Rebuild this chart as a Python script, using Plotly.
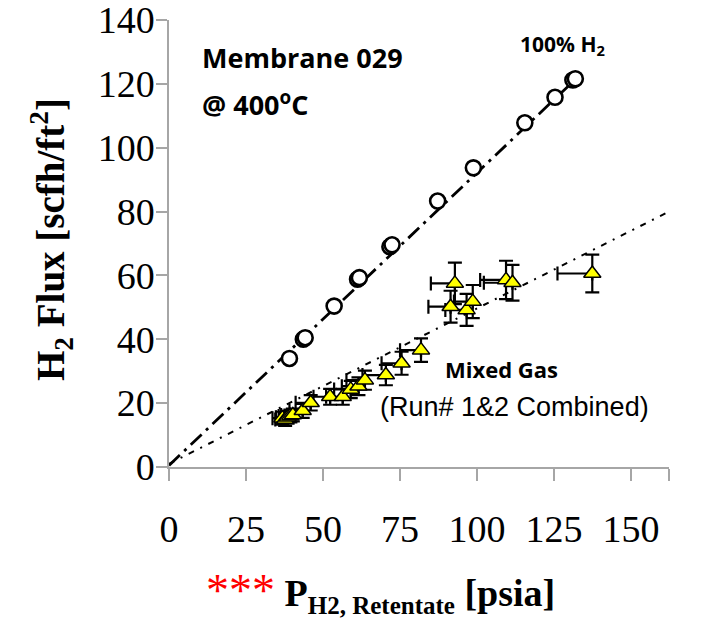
import plotly.graph_objects as go

# ---------------- data ----------------
# 100% H2 feed (open circles)
h2_x = [39.1, 43.6, 44.2, 53.6, 61.2, 61.8, 71.7, 72.4, 87.2, 98.8, 115.5, 125.3, 131.1, 131.9]
h2_y = [34.0, 40.0, 40.5, 50.4, 58.8, 59.3, 69.0, 69.6, 83.3, 93.7, 107.8, 115.8, 121.2, 121.6]

# trend line for 100% H2
h2_fit_x = [0, 133.1]
h2_fit_y = [0.5, 122.5]

# Mixed gas (Run# 1&2 combined), yellow triangles
mix_x = [36.8, 37.7, 38.5, 39.4, 40.2, 43.4, 46.0, 52.3, 56.4, 59.0, 61.5, 63.6,
         70.4, 75.5, 81.8, 91.4, 92.8, 96.6, 98.6, 109.4, 111.5, 137.4]
mix_y = [15.3, 14.9, 15.6, 16.0, 16.3, 17.6, 20.1, 22.0, 22.0, 24.3, 25.3, 27.2,
         28.8, 32.5, 36.6, 50.2, 57.5, 49.2, 51.8, 58.6, 57.7, 60.6]
mix_yerr = [2.0, 2.0, 2.0, 2.0, 2.0, 2.2, 2.4, 2.5, 2.5, 2.7, 2.8, 3.0,
            3.2, 3.6, 3.7, 5.0, 6.5, 5.0, 5.2, 6.0, 5.6, 5.9]
mix_xerr_minus = [3.2, 3.2, 3.8, 3.8, 3.8, 4.3, 4.9, 5.4, 5.4, 5.4, 5.4, 6.0,
                  7.6, 6.5, 6.8, 7.2, 7.8, 6.9, 6.1, 8.4, 9.3, 11.3]
mix_xerr_plus = [0.0] * len(mix_x)

# trend line for mixed gas
mix_fit_x = [0, 162.3]
mix_fit_y = [1.0, 80.0]

x_max = 162.3
y_max = 140
x_ticks = [0, 25, 50, 75, 100, 125, 150, x_max]
x_tick_labels = ["0", "25", "50", "75", "100", "125", "150", ""]
y_ticks = [0, 20, 40, 60, 80, 100, 120, 140]

# ---------------- figure ----------------
W, H = 706, 618
L, R, T, B = 169, 37, 20, 151


def px(xp):
    return (xp - L) / (W - L - R)


def py(yp):
    return (H - B - yp) / (H - B - T)


fig = go.Figure()

fig.add_trace(go.Scatter(
    x=h2_fit_x, y=h2_fit_y, mode="lines",
    line=dict(color="black", width=2.8, dash="15px,6px,3px,6px"),
    hoverinfo="skip", showlegend=False))

fig.add_trace(go.Scatter(
    x=mix_fit_x, y=mix_fit_y, mode="lines",
    line=dict(color="black", width=2, dash="6px,7px,2px,7px"),
    hoverinfo="skip", showlegend=False))

fig.add_trace(go.Scatter(
    x=mix_x, y=mix_y, mode="markers",
    marker=dict(symbol="triangle-up", size=15, color="#FFFF00",
                line=dict(color="black", width=1.5)),
    error_y=dict(type="data", array=mix_yerr, symmetric=True,
                 color="black", thickness=2.2, width=7),
    error_x=dict(type="data", array=mix_xerr_plus, arrayminus=mix_xerr_minus,
                 symmetric=False, color="black", thickness=2.2, width=7),
    cliponaxis=False, showlegend=False))

fig.add_trace(go.Scatter(
    x=h2_x, y=h2_y, mode="markers",
    marker=dict(symbol="circle", size=15, color="white",
                line=dict(color="black", width=2.6)),
    cliponaxis=False, showlegend=False))

axis_common = dict(
    showline=True, linecolor="#A6A6A6", linewidth=1.5,
    ticks="outside", tickcolor="#A6A6A6", tickwidth=1.5,
    showgrid=False, zeroline=False, automargin=False,
    ticklabeloverflow="allow",
    tickfont=dict(family="Liberation Serif", size=38, color="black"),
)

fig.update_layout(
    width=W, height=H,
    margin=dict(l=L, r=R, t=T, b=B, autoexpand=False),
    paper_bgcolor="white", plot_bgcolor="white",
    xaxis=dict(range=[0, x_max], tickvals=x_ticks, ticktext=x_tick_labels,
               ticklen=12, ticklabelstandoff=16, **axis_common),
    yaxis=dict(range=[0, y_max], tickvals=y_ticks, ticklen=11,
               ticklabelstandoff=-6, **axis_common),
)

ann = []
ann.append(dict(text="<b>H<sub>2</sub> Flux [scfh/ft<sup>2</sup>]</b>",
                x=px(51), y=py(240), textangle=-90,
                font=dict(family="Liberation Serif", size=39, color="black")))
ann.append(dict(text='<span style="color:#FF0000;font-size:46px">***</span>'
                     '<b> P<sub><span style="font-size:25px">H2, Retentate</span></sub>'
                     ' [psia]</b>',
                x=px(204), y=py(592), xanchor="left",
                font=dict(family="Liberation Serif", size=38, color="black")))
ann.append(dict(text="<b>Membrane 029</b>", x=px(200), y=py(58), xanchor="left",
                font=dict(family="Open Sans", size=27, color="black")))
ann.append(dict(text="<b>@ 400<sup>o</sup>C</b>", x=px(200), y=py(103), xanchor="left",
                font=dict(family="Open Sans", size=27, color="black")))
ann.append(dict(text="<b>100% H<sub>2</sub></b>", x=px(518), y=py(45), xanchor="left",
                font=dict(family="Open Sans", size=21, color="black")))
ann.append(dict(text="<b>Mixed Gas</b>", x=px(443), y=py(369), xanchor="left",
                font=dict(family="Open Sans", size=22, color="black")))
ann.append(dict(text="(Run# 1&2 Combined)", x=px(378), y=py(407), xanchor="left",
                font=dict(family="Liberation Sans", size=27, color="black")))

for a in ann:
    a.setdefault("xref", "paper")
    a.setdefault("yref", "paper")
    a.setdefault("showarrow", False)
    a.setdefault("yanchor", "middle")
    a.setdefault("xanchor", "center")
    fig.add_annotation(**a)

fig.write_html(
    "out.html",
    config={"displayModeBar": False},
    post_script="document.body.style.margin='0';document.body.style.overflow='hidden';",
)
